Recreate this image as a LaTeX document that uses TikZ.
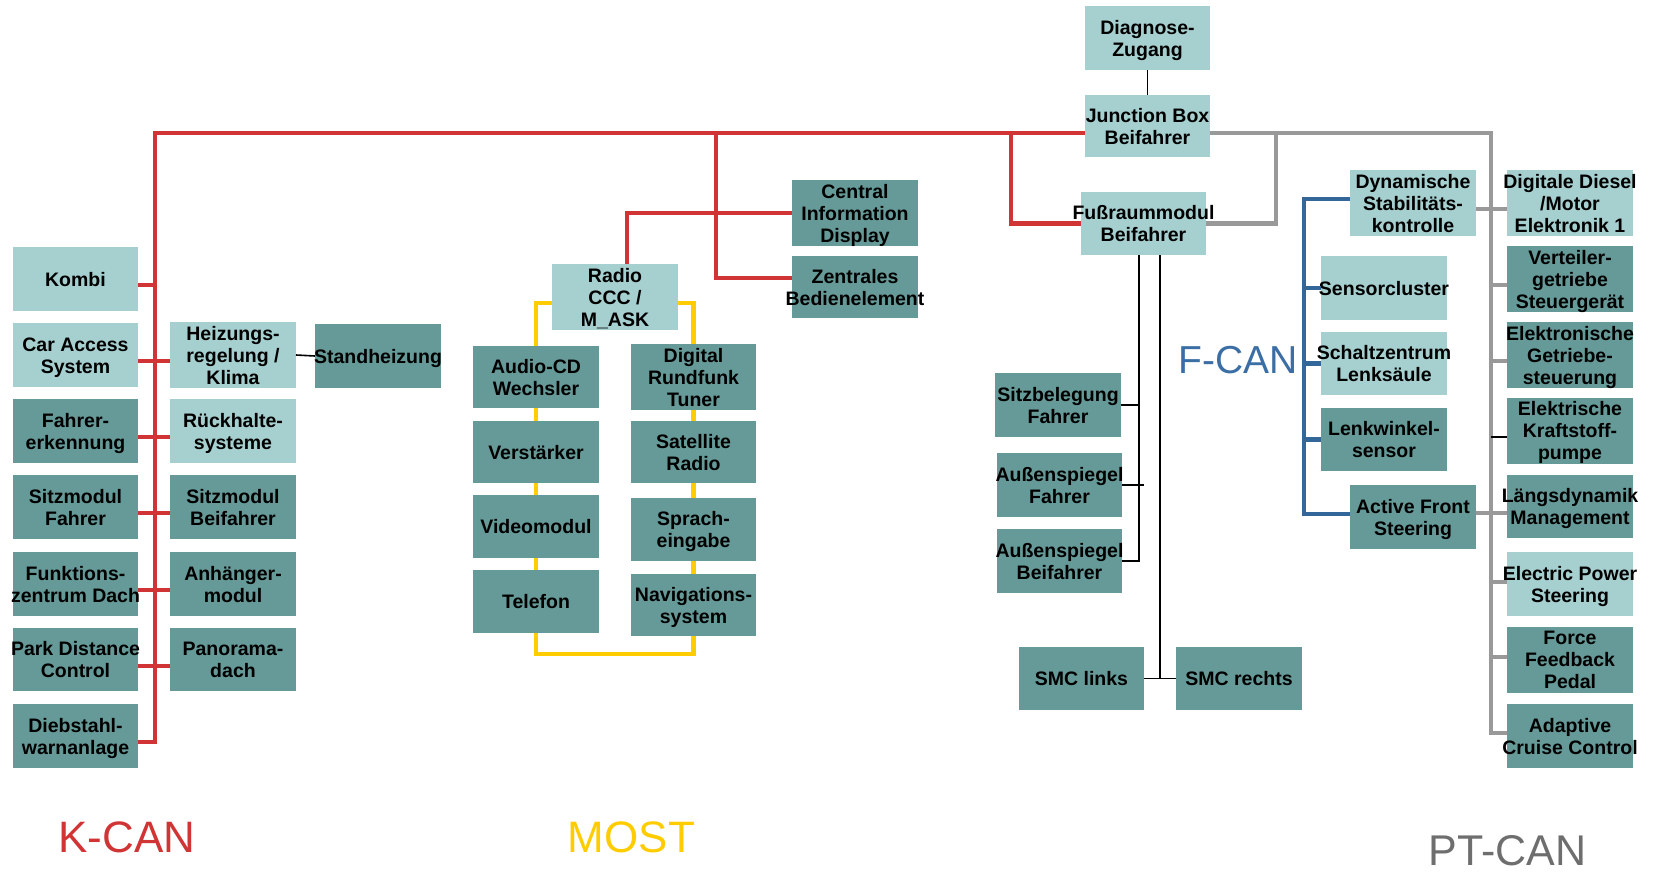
\documentclass[tikz,border=0pt]{standalone}
\usepackage{fontspec}
\setmainfont{Liberation Sans}
\definecolor{lt}{HTML}{A6CFCF}
\definecolor{dk}{HTML}{659A98}
\definecolor{kred}{HTML}{D03434}
\definecolor{myel}{HTML}{FFCC00}
\definecolor{fblue}{HTML}{336699}
\definecolor{flbl}{HTML}{3A6EA5}
\definecolor{ptgray}{HTML}{999999}
\definecolor{ptlbl}{HTML}{6E6E6E}
\newcommand\tx[1]{\makebox[0pt]{\raisebox{-3pt}[\height][\depth]{\begin{tabular}{@{}c@{}}#1\end{tabular}}}}
\newcommand\ecu[7]{\node[#6, minimum width=#4pt, minimum height=#5pt] (#1) at (#2,#3) {\tx{#7}};}
\begin{document}
\begin{tikzpicture}[x=1pt,y=-1pt,
  every node/.style={inner sep=0pt, outer sep=0pt, font=\fontsize{19.5}{22}\selectfont\bfseries},
  lbox/.style={fill=lt},
  dbox/.style={fill=dk},
  kcan/.style={draw=kred, line width=4.5pt},
  most/.style={draw=myel, line width=4.5pt},
  fcan/.style={draw=fblue, line width=4.5pt},
  ptcan/.style={draw=ptgray, line width=4.5pt},
  thinl/.style={draw=black, line width=1.6pt},
  lbl/.style={anchor=base, text depth=0pt, font=\fontsize{44}{44}\selectfont}]
\fill[white] (0,0) rectangle (1654,873);
\useasboundingbox (0,0) rectangle (1654,873);
% K-CAN
\ecu{kombi}{75.5}{279}{125}{64}{lbox}{Kombi}
\ecu{car}{75.5}{355}{125}{64}{lbox}{Car Access\\System}
\ecu{fahr}{75.5}{431}{125}{64}{dbox}{Fahrer-\\erkennung}
\ecu{sitzf}{75.5}{507}{125}{64}{dbox}{Sitzmodul\\Fahrer}
\ecu{funk}{75.5}{584}{125}{64}{dbox}{Funktions-\\zentrum Dach}
\ecu{park}{75.5}{659.5}{125}{63}{dbox}{Park Distance\\Control}
\ecu{dieb}{75.5}{736}{125}{64}{dbox}{Diebstahl-\\warnanlage}
\ecu{heiz}{233}{355}{126}{64}{lbox}{Heizungs-\\regelung /\\Klima}
\ecu{rueck}{233}{431}{126}{64}{lbox}{Rückhalte-\\systeme}
\ecu{sitzb}{233}{507}{126}{64}{dbox}{Sitzmodul\\Beifahrer}
\ecu{anh}{233}{584}{126}{64}{dbox}{Anhänger-\\modul}
\ecu{pano}{233}{659.5}{126}{63}{dbox}{Panorama-\\dach}
\ecu{stand}{378}{356}{126}{64}{dbox}{Standheizung}
% middle
\ecu{cid}{855}{213}{126}{62}{dbox}{Central\\Information\\Display}
\ecu{zent}{855}{287}{126}{62}{dbox}{Zentrales\\Bedienelement}
\ecu{radio}{615}{297}{126}{62}{lbox}{Radio\\CCC /\\M\_ASK}
\ecu{audio}{536}{377}{126}{62}{dbox}{Audio-CD\\Wechsler}
\ecu{verst}{536}{452}{126}{62}{dbox}{Verstärker}
\ecu{video}{536}{526.5}{126}{63}{dbox}{Videomodul}
\ecu{tel}{536}{601.5}{126}{63}{dbox}{Telefon}
\ecu{dab}{693.5}{377}{125}{62}{dbox}{Digital\\Rundfunk\\Tuner}
\ecu{sat}{693.5}{452}{125}{62}{dbox}{Satellite\\Radio}
\ecu{sprach}{693.5}{529.5}{125}{63}{dbox}{Sprach-\\eingabe}
\ecu{navi}{693.5}{605}{125}{62}{dbox}{Navigations-\\system}
% right
\ecu{diag}{1147.5}{38}{125}{64}{lbox}{Diagnose-\\Zugang}
\ecu{jb}{1147.5}{126}{125}{62}{lbox}{Junction Box\\Beifahrer}
\ecu{fuss}{1143.5}{223.5}{125}{63}{lbox}{Fußraummodul\\Beifahrer}
\ecu{sitzbel}{1058}{405}{126}{64}{dbox}{Sitzbelegung\\Fahrer}
\ecu{spf}{1059.5}{485}{125}{64}{dbox}{Außenspiegel\\Fahrer}
\ecu{spb}{1059.5}{561}{125}{64}{dbox}{Außenspiegel\\Beifahrer}
\ecu{smcl}{1081.5}{678.5}{125}{63}{dbox}{SMC links}
\ecu{smcr}{1239}{678.5}{126}{63}{dbox}{SMC rechts}
\ecu{dyn}{1413}{203}{126}{64}{lbox}{Dynamische\\Stabilitäts-\\kontrolle}
\ecu{sens}{1384}{288}{126}{64}{lbox}{Sensorcluster}
\ecu{schalt}{1384}{363.5}{126}{63}{lbox}{Schaltzentrum\\Lenksäule}
\ecu{lenk}{1384}{439.5}{126}{63}{dbox}{Lenkwinkel-\\sensor}
\ecu{afs}{1413}{517}{126}{64}{dbox}{Active Front\\Steering}
\ecu{dig}{1570}{203}{126}{64}{lbox}{Digitale Diesel\\/Motor\\Elektronik 1}
\ecu{vert}{1570}{279}{126}{64}{dbox}{Verteiler-\\getriebe\\Steuergerät}
\ecu{egs}{1570}{355}{126}{64}{dbox}{Elektronische\\Getriebe-\\steuerung}
\ecu{ekp}{1570}{430.5}{126}{63}{dbox}{Elektrische\\Kraftstoff-\\pumpe}
\ecu{ldm}{1570}{506.5}{126}{63}{dbox}{Längsdynamik\\Management}
\ecu{eps}{1570}{584}{126}{64}{lbox}{Electric Power\\Steering}
\ecu{ffp}{1570}{659.5}{126}{63}{dbox}{Force\\Feedback\\Pedal}
\ecu{acc}{1570}{736}{126}{64}{dbox}{Adaptive\\Cruise Control}
% labels
\node[lbl, text=kred] (lk) at (127,852) {K-CAN};
\node[lbl, text=myel] (lm) at (631.5,852) {MOST};
\node[lbl, text=flbl, font=\fontsize{39}{39}\selectfont] (lf) at (1238,373) {F-CAN};
\node[lbl, text=ptlbl, font=\fontsize{43}{43}\selectfont] (lp) at (1507.5,865) {PT-CAN};
% K-CAN bus
\coordinate (kTL) at (155,133);
\coordinate (kM) at (716,133);
\coordinate (kF) at (1011,133);
\draw[kcan] ([yshift=-6pt]dieb.east) -| (kTL) -- ([yshift=-7pt]jb.west);
\draw[kcan] ([yshift=-6pt]kombi.east) -- ++(17,0);
\draw[kcan] ([yshift=-6pt]car.east) -- ([yshift=-6pt]heiz.west);
\draw[kcan] ([yshift=-6pt]fahr.east) -- ([yshift=-6pt]rueck.west);
\draw[kcan] ([yshift=-6pt]sitzf.east) -- ([yshift=-6pt]sitzb.west);
\draw[kcan] ([yshift=-6pt]funk.east) -- ([yshift=-6pt]anh.west);
\draw[kcan] ([yshift=-6.5pt]park.east) -- ([yshift=-6.5pt]pano.west);
\draw[kcan] (kM) |- ([yshift=9pt]zent.west);
\draw[kcan] ([xshift=12pt]radio.north) |- (cid.west);
\draw[kcan] (kF) |- (fuss.west);
\draw[thinl] (heiz.east) -- (stand.west);
% MOST ring
\draw[most] ([yshift=-6pt]radio.west) -| (audio.north);
\draw[most] ([yshift=-6pt]radio.east) -| (dab.north);
\draw[most] (audio.south) -- (verst.north);
\draw[most] (verst.south) -- (video.north);
\draw[most] (video.south) -- (tel.north);
\draw[most] (dab.south) -- (sat.north);
\draw[most] (sat.south) -- (sprach.north);
\draw[most] (sprach.south) -- (navi.north);
\draw[most] (tel.south) -- ++(0,21) -| (navi.south);
% Diagnose and Fussraum lines
\draw[thinl] (diag.south) -- (jb.north);
\draw[thinl] ([xshift=-4.5pt]fuss.south) |- (spb.east);
\draw[thinl] ([xshift=16.5pt]fuss.south) |- (smcl.east);
\draw[thinl] (smcl.east) -- (smcr.west);
\draw[thinl] (sitzbel.east) -- ++(18,0);
\draw[thinl] (spf.east) -- ++(22,0);
% F-CAN
\coordinate (fT) at (1304,199);
\coordinate (fB) at (1304,514);
\draw[fcan] ([yshift=4pt]dyn.west) -- (fT) -- (fB) -- ([yshift=3pt]afs.west);
\draw[fcan] (sens.west -| fT) -- (sens.west);
\draw[fcan] (schalt.west -| fT) -- (schalt.west);
\draw[fcan] (lenk.west -| fT) -- (lenk.west);
% PT-CAN
\coordinate (pA) at (1276,133);
\coordinate (pT) at (1491,133);
\coordinate (pB) at (1491,733);
\draw[ptcan] ([yshift=-7pt]jb.east) -- (pT) -- (pB) -- ([yshift=3pt]acc.west);
\draw[ptcan] (pA) |- (fuss.east);
\draw[ptcan] ([yshift=-6pt]dyn.east) -- ([yshift=-6pt]dig.west);
\draw[ptcan] ([yshift=-6pt]vert.west) -- ++(-16,0);
\draw[ptcan] ([yshift=-6pt]egs.west) -- ++(-16,0);
\draw[thinl] ([yshift=-6.5pt]ekp.west) -- ++(-16,0);
\draw[ptcan] ([yshift=4pt]afs.east) -- ([yshift=-6.5pt]ldm.west);
\draw[ptcan] ([yshift=2pt]eps.west) -- ++(-16,0);
\draw[ptcan] ([yshift=2.5pt]ffp.west) -- ++(-16,0);
\end{tikzpicture}
\end{document}
